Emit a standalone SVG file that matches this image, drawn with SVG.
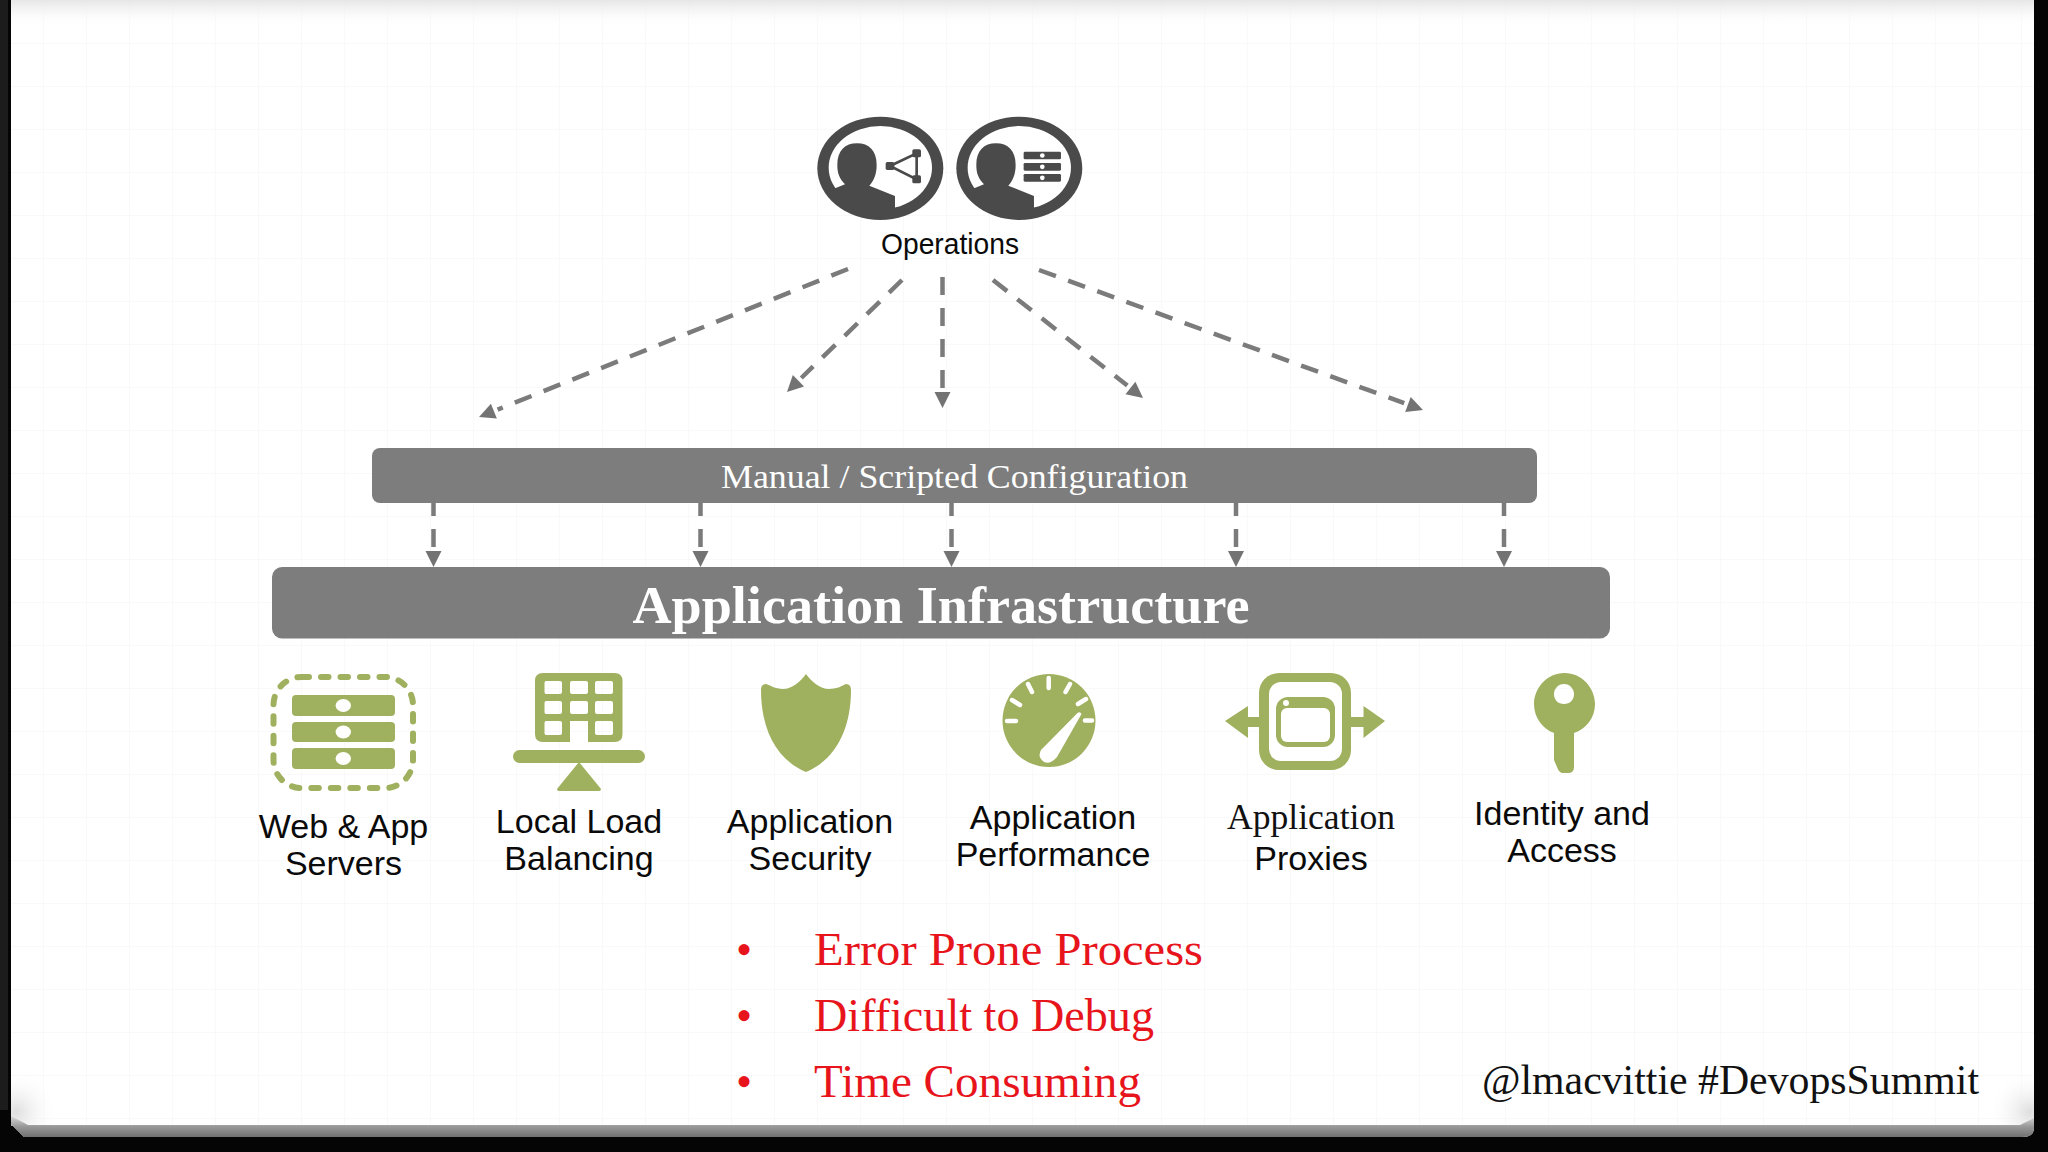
<svg xmlns="http://www.w3.org/2000/svg" xmlns:xlink="http://www.w3.org/1999/xlink" width="2048" height="1152" viewBox="0 0 2048 1152">
<style>
.lbl{font-family:"Liberation Sans",Arial,sans-serif;font-size:34px;fill:#0a0a0a;text-anchor:middle}
.ser{font-family:"Liberation Serif","Times New Roman",serif}
.red{font-family:"Liberation Serif","Times New Roman",serif;font-size:46px;fill:#e8141c}
.g{fill:#9fb05f}
.w{fill:#fff}
.cn{fill:none;stroke:#7b7b7b;stroke-width:4.5;stroke-dasharray:18 13;marker-end:url(#ah)}
.cs{stroke-dashoffset:5}
.bar{fill:#7d7d7d}
.ops{fill:#4a4a4a}
</style>
<defs>
<marker id="ah" markerUnits="userSpaceOnUse" markerWidth="20" markerHeight="18" refX="-4" refY="8" orient="auto" overflow="visible">
<path d="M0,0L16,8L0,16Z" fill="#737373"/>
</marker>
<pattern id="grid" width="43" height="43" patternUnits="userSpaceOnUse" x="1" y="1">
<path d="M43,0V43M0,43H43" fill="none" stroke="#f7f7f7" stroke-width="1.5"/>
</pattern>
<linearGradient id="top" x1="0" y1="0" x2="0" y2="1"><stop offset="0" stop-color="#e6e6e6"/><stop offset="1" stop-color="#fff" stop-opacity="0"/></linearGradient>
<linearGradient id="bot" x1="0" y1="0" x2="0" y2="1"><stop offset="0" stop-color="#dadada"/><stop offset="0.5" stop-color="#999"/><stop offset="1" stop-color="#707070"/></linearGradient>
<radialGradient id="cs"><stop offset="0" stop-color="#dedede"/><stop offset="1" stop-color="#fff" stop-opacity="0"/></radialGradient>
<clipPath id="sheet"><rect x="11" y="0" width="2023" height="1126"/></clipPath>
<g id="person">
<ellipse cx="301" cy="235" rx="189" ry="155" class="ops"/>
<ellipse cx="301" cy="233" rx="155" ry="125" class="w"/>
<path class="ops" d="M160,297L195,283C178,265 172,250 172,225C172,182 195,160 231,160C267,160 290,182 290,225C290,252 282,272 268,287L345,318V362L300,385L190,360Z"/>
</g>
</defs>
<rect width="2048" height="1152" fill="#050505"/>
<rect x="0" y="0" width="8" height="1110" fill="#1c1c1c"/>
<path d="M11,0H2034V1128Q2034,1137 2022,1137H24L11,1124Z" fill="#fff"/>
<rect x="11" y="0" width="2023" height="1125" fill="url(#grid)"/>
<rect x="11" y="0" width="2023" height="28" fill="url(#top)"/>
<g clip-path="url(#sheet)">
<ellipse cx="16" cy="1112" rx="42" ry="42" fill="url(#cs)"/>
<ellipse cx="2030" cy="1112" rx="42" ry="42" fill="url(#cs)"/>
</g>
<path d="M11,1116L28,1125H2020L2034,1118V1128Q2034,1137 2022,1137H24L11,1124Z" fill="url(#bot)"/>

<g id="connectors">
<line class="cn" x1="848" y1="269" x2="497.6" y2="409.6"/>
<line class="cn" x1="902" y1="280" x2="801.3" y2="378"/>
<line class="cn" x1="942.5" y1="277" x2="942.5" y2="388"/>
<line class="cn" x1="993" y1="280" x2="1127.3" y2="385.6"/>
<line class="cn" x1="1039" y1="270" x2="1404.2" y2="403.1"/>
<line class="cn cs" x1="433.500" y1="503" x2="433.500" y2="547"/>
<line class="cn cs" x1="700.500" y1="503" x2="700.500" y2="547"/>
<line class="cn cs" x1="951.500" y1="503" x2="951.500" y2="547"/>
<line class="cn cs" x1="1236" y1="503" x2="1236" y2="547"/>
<line class="cn cs" x1="1504" y1="503" x2="1504" y2="547"/>
</g>

<g id="operations">
<g transform="translate(780,90) scale(.3333)">
<use xlink:href="#person" href="#person"/>
<path d="M330,228L410,190V268Z" fill="none" stroke="#4a4a4a" stroke-width="8"/>
<rect x="317" y="216" width="26" height="24" rx="5" class="ops"/>
<rect x="397" y="178" width="26" height="24" rx="5" class="ops"/>
<rect x="397" y="256" width="26" height="24" rx="5" class="ops"/>
<use xlink:href="#person" href="#person" x="417"/>
<rect x="731" y="185" width="112" height="23" rx="4" class="ops"/>
<rect x="731" y="219" width="112" height="23" rx="4" class="ops"/>
<rect x="731" y="252" width="112" height="23" rx="4" class="ops"/>
<circle cx="787" cy="196.500" r="7" class="w"/>
<circle cx="787" cy="230.500" r="7" class="w"/>
<circle cx="787" cy="263.500" r="7" class="w"/>
</g>
<text x="950" y="254" class="lbl" style="font-size:29px" textLength="138" lengthAdjust="spacingAndGlyphs">Operations</text>
</g>

<g id="manual-config">
<rect x="372" y="448" width="1165" height="55" rx="8" class="bar"/>
<text x="954.500" y="488" class="ser" font-size="34" fill="#fff" text-anchor="middle" textLength="467" lengthAdjust="spacingAndGlyphs">Manual / Scripted Configuration</text>
</g>
<g id="app-infra">
<rect x="272" y="567" width="1338" height="71.500" rx="10" class="bar"/>
<text x="941" y="622.500" class="ser" font-size="52" font-weight="bold" fill="#fff" text-anchor="middle" textLength="617" lengthAdjust="spacingAndGlyphs">Application Infrastructure</text>
</g>

<g id="web-servers">
<rect x="273.500" y="677" width="139.500" height="111" rx="28" fill="none" stroke="#9fb05f" stroke-width="6" stroke-linecap="round" stroke-dasharray="7.500 12"/>
<rect x="292" y="695" width="103" height="21" rx="4" class="g"/>
<rect x="292" y="722" width="103" height="20" rx="4" class="g"/>
<rect x="292" y="748" width="103" height="21" rx="4" class="g"/>
<ellipse cx="343.300" cy="705.500" rx="7.700" ry="6.500" class="w"/>
<ellipse cx="343.300" cy="732" rx="7.700" ry="6.500" class="w"/>
<ellipse cx="343.300" cy="758.500" rx="7.700" ry="6.500" class="w"/>
<text x="343.500" y="838" class="lbl">Web &amp; App</text>
<text x="343.500" y="875" class="lbl">Servers</text>
</g>

<g id="load-balancing">
<path class="g" fill-rule="evenodd" d="M543,673H614.500Q622.500,673 622.500,681V734Q622.500,742 614.500,742H588V721H570V742H543Q535,742 535,734V681Q535,673 543,673ZM546,681Q544.500,681 544.500,683V692Q544.500,694 546,694H560Q562,694 562,692V683Q562,681 560,681ZM572,681Q570,681 570,683V692Q570,694 572,694H586Q588,694 588,692V683Q588,681 586,681ZM597,681Q595,681 595,683V692Q595,694 597,694H611Q613,694 613,692V683Q613,681 611,681ZM546,701Q544.500,701 544.500,703V712Q544.500,714 546,714H560Q562,714 562,712V703Q562,701 560,701ZM572,701Q570,701 570,703V712Q570,714 572,714H586Q588,714 588,712V703Q588,701 586,701ZM597,701Q595,701 595,703V712Q595,714 597,714H611Q613,714 613,712V703Q613,701 611,701ZM546,721Q544.500,721 544.500,723V733Q544.500,735 546,735H560Q562,735 562,733V723Q562,721 560,721ZM597,721Q595,721 595,723V733Q595,735 597,735H611Q613,735 613,733V723Q613,721 611,721Z"/>
<rect x="513" y="750" width="132" height="13" rx="6.500" class="g"/>
<path class="g" d="M579,762L601,789Q601,791 598,791H560Q557,791 557,789Z"/>
<text x="579" y="833" class="lbl">Local Load</text>
<text x="579" y="870" class="lbl">Balancing</text>
</g>

<g id="app-security">
<path class="g" d="M806,674C812,682 820,689 829,689C838,689 843,685 846,684Q851,684 851,690C851,730 835,760 806,772C777,760 761,730 761,690Q761,684 766,684C770,685 775,689 783,689C792,689 800,682 806,674Z"/>
<text x="810" y="833" class="lbl">Application</text>
<text x="810" y="870" class="lbl">Security</text>
</g>

<g id="app-performance">
<ellipse cx="1049" cy="720.500" rx="46.500" ry="46.500" class="g"/>
<g stroke="#fff" stroke-width="4.500" stroke-linecap="round" fill="none">
<path d="M1007,721H1016M1012,700L1020,705M1028,684L1032,692M1048.700,678V688M1070,684L1065.500,692M1086,699L1078,704M1085,720.500H1092"/>
</g>
<path class="w" d="M1077.500,713Q1080,711 1081.500,714L1057,757Q1050,765 1044,762Q1037,757 1041,750Z"/>
<text x="1053" y="829" class="lbl">Application</text>
<text x="1053" y="866" class="lbl">Performance</text>
</g>

<g id="app-proxies">
<path class="g" d="M1225,721L1248,706V717H1262V727H1248V738ZM1385,721L1363.500,706V717H1348V727H1363.500V738Z"/>
<rect x="1259" y="673" width="92" height="97" rx="20" class="g"/>
<rect x="1269" y="682" width="73" height="79" rx="12" class="w"/>
<rect x="1276" y="697" width="59" height="50" rx="12" class="g"/>
<rect x="1281" y="708" width="49" height="34" rx="6" class="w"/>
<circle cx="1286" cy="703" r="3" class="w"/>
<text x="1311" y="829" class="ser" font-size="35" fill="#111" text-anchor="middle" textLength="168" lengthAdjust="spacingAndGlyphs">Application</text>
<text x="1311" y="870" class="lbl">Proxies</text>
</g>

<g id="identity-access">
<path class="g" fill-rule="evenodd" d="M1564.500,673C1582,673 1595,688 1595,704C1595,718 1586,729 1574,733V767Q1574,773 1568,773H1563Q1559,773 1557,767L1554,760V733C1543,729 1534,718 1534,704C1534,688 1547,673 1564.500,673ZM1564,684C1558,684 1554,689 1554,694C1554,700 1558,704 1564,704C1570,704 1574,700 1574,694C1574,689 1570,684 1564,684Z"/>
<text x="1562" y="825" class="lbl">Identity and</text>
<text x="1562" y="862" class="lbl">Access</text>
</g>

<g id="notes">
<text x="736" y="965" class="red">•</text>
<text x="814" y="965" class="red" textLength="389" lengthAdjust="spacingAndGlyphs">Error Prone Process</text>
<text x="736" y="1031" class="red">•</text>
<text x="814" y="1031" class="red" textLength="340" lengthAdjust="spacingAndGlyphs">Difficult to Debug</text>
<text x="736" y="1097" class="red">•</text>
<text x="814" y="1097" class="red" textLength="327" lengthAdjust="spacingAndGlyphs">Time Consuming</text>
<text x="1482" y="1094" class="ser" font-size="42" fill="#111" textLength="497" lengthAdjust="spacingAndGlyphs">@lmacvittie #DevopsSummit</text>
</g>
</svg>
